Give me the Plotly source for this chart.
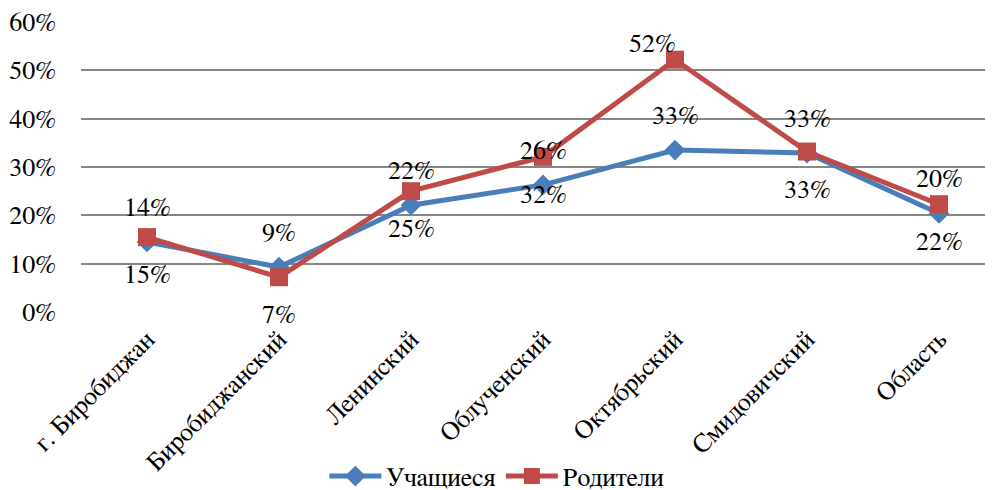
import plotly.graph_objects as go

categories = ["г. Биробиджан", "Биробиджанский", "Ленинский", "Облученский",
              "Октябрьский", "Смидовичский", "Область"]
students = [0.145, 0.093, 0.221, 0.263, 0.335, 0.329, 0.204]
parents = [0.155, 0.072, 0.250, 0.321, 0.522, 0.332, 0.223]
students_labels = ["14%", "9%", "22%", "26%", "33%", "33%", "20%"]
parents_labels = ["15%", "7%", "25%", "32%", "52%", "33%", "22%"]
y_ticks = [0, 0.1, 0.2, 0.3, 0.4, 0.5, 0.6]
y_tick_text = ["0%", "10%", "20%", "30%", "40%", "50%", "60%"]

BLUE = "#4A7EBB"
RED = "#BE4B48"
FONT = "FreeSerif, 'Liberation Serif', serif"
FS = 26

fig = go.Figure()
fig.add_trace(go.Scatter(
    x=categories, y=students, name="Учащиеся", mode="lines+markers",
    line=dict(color=BLUE, width=5),
    marker=dict(symbol="diamond", size=16, color=BLUE),
))
fig.add_trace(go.Scatter(
    x=categories, y=parents, name="Родители", mode="lines+markers",
    line=dict(color=RED, width=5),
    marker=dict(symbol="square", size=18, color=RED),
))

annotations = []
for c, v, t in zip(categories, students, students_labels):
    annotations.append(dict(x=c, y=v, text=t, showarrow=False, yshift=34,
                            font=dict(family=FONT, size=FS, color="black")))
for i, (c, v, t) in enumerate(zip(categories, parents, parents_labels)):
    if i == 4:
        annotations.append(dict(x=c, y=v, text=t, showarrow=False, yshift=16, xshift=-23,
                                font=dict(family=FONT, size=FS, color="black")))
    else:
        annotations.append(dict(x=c, y=v, text=t, showarrow=False, yshift=-38,
                                font=dict(family=FONT, size=FS, color="black")))

fig.update_layout(
    width=985, height=482,
    margin=dict(l=73, r=0, t=14, b=178, autoexpand=False),
    paper_bgcolor="white", plot_bgcolor="white",
    font=dict(family=FONT, size=FS, color="black"),
    showlegend=True,
    legend=dict(orientation="h", x=0.456, xanchor="center", y=-0.566, yanchor="middle",
                font=dict(family=FONT, size=FS, color="black"),
                itemwidth=52, tracegroupgap=0),
    annotations=annotations,
)
fig.update_xaxes(
    type="category", range=[-0.5, 6.409], tickangle=-45, automargin=False,
    showgrid=False, showline=False, zeroline=False, ticklabelstandoff=6,
    tickfont=dict(family=FONT, size=FS, color="black"),
)
fig.update_yaxes(
    range=[0, 0.6], tickvals=y_ticks, ticktext=y_tick_text, automargin=False,
    showgrid=True, gridcolor="#878787", gridwidth=1.5,
    zeroline=False, showline=False, ticklabelstandoff=24,
    tickfont=dict(family=FONT, size=FS, color="black"),
)

fig.write_html("out.html")
